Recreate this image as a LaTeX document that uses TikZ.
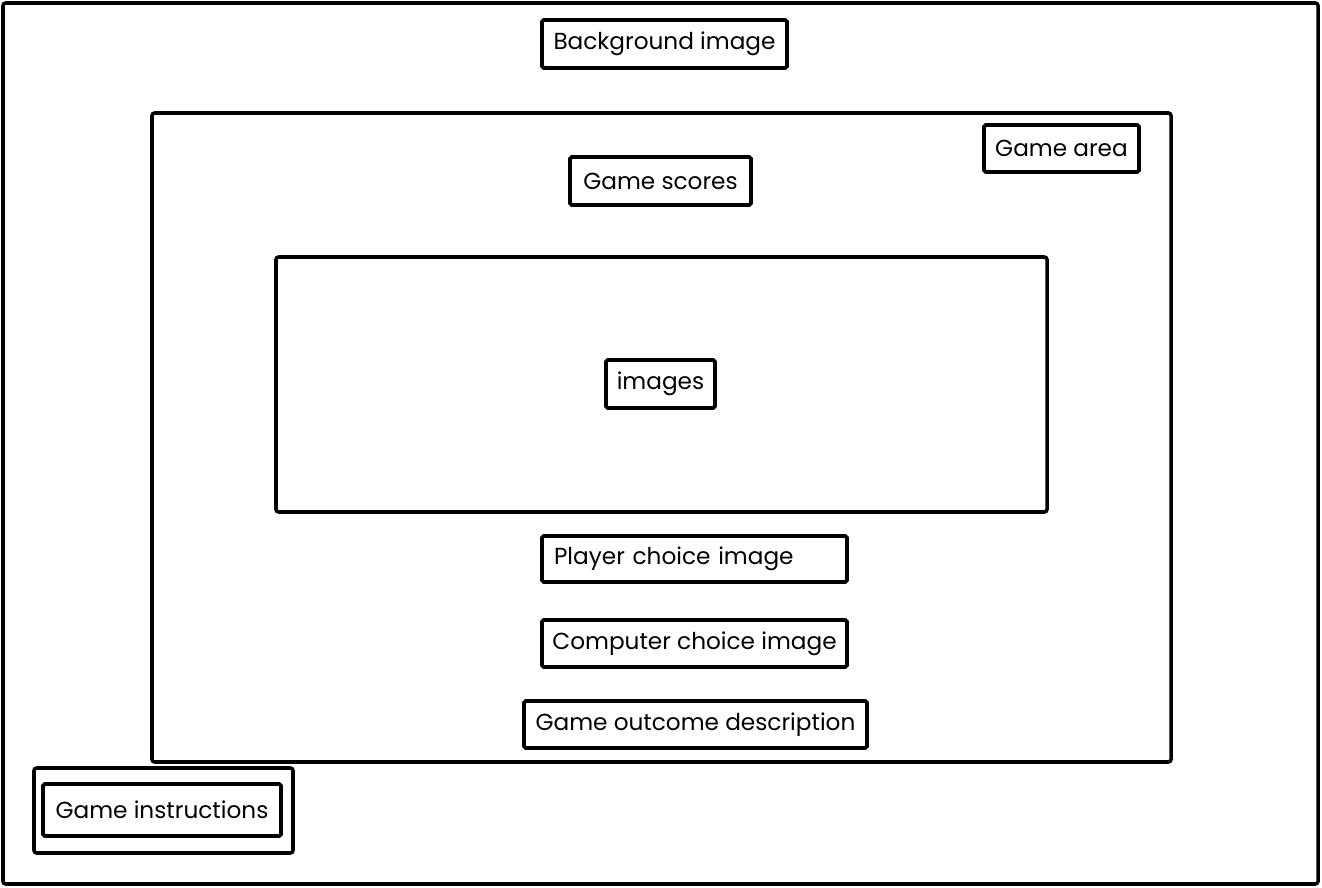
\documentclass[tikz,border=0pt]{standalone}
\usepackage{fontspec}
\setmainfont{Poppins}
\tikzset{
  pane/.style={draw, line width=2pt, rounded corners=1.5pt},
  labelbox/.style={draw, line width=2.2pt, rounded corners=1pt, inner sep=0pt,
    font=\fontsize{13.2}{15}\selectfont},
}
\begin{document}
\begin{tikzpicture}[x=0.02cm, y=-0.02cm]
    \useasboundingbox (0,0) rectangle (1322,888);

    % Cornici
    \draw[pane] (3,3) rectangle (1318,884);
    \draw[pane] (152,113) rectangle (1171,762);
    \draw[pane] (276,257) rectangle (1047,512);
    \draw[pane] (34,768) rectangle (293,853);

    % Etichette
    \node[labelbox, minimum width=245*0.02cm, minimum height=48*0.02cm] (bg) at (664.5,44) {Background image};
    \node[labelbox, minimum width=155*0.02cm, minimum height=47*0.02cm] (area) at (1061.5,148.5) {Game area};
    \node[labelbox, minimum width=181*0.02cm, minimum height=48*0.02cm] (scores) at (660.5,181) {Game scores};
    \node[labelbox, minimum width=109*0.02cm, minimum height=48*0.02cm] (images) at (660.5,384) {images};
    \node[labelbox, text width=281*0.02cm, align=left, inner xsep=12*0.02cm, minimum height=46*0.02cm] (player) at (694.5,559) {Player choice image};
    \node[labelbox, minimum width=305*0.02cm, minimum height=47*0.02cm] (computer) at (694.5,643.5) {Computer choice image};
    \node[labelbox, minimum width=343*0.02cm, minimum height=47*0.02cm] (outcome) at (695.5,724.5) {Game outcome description};
    \node[labelbox, minimum width=238*0.02cm, minimum height=52*0.02cm] (instructions) at (162,810) {Game instructions};
\end{tikzpicture}
\end{document}
